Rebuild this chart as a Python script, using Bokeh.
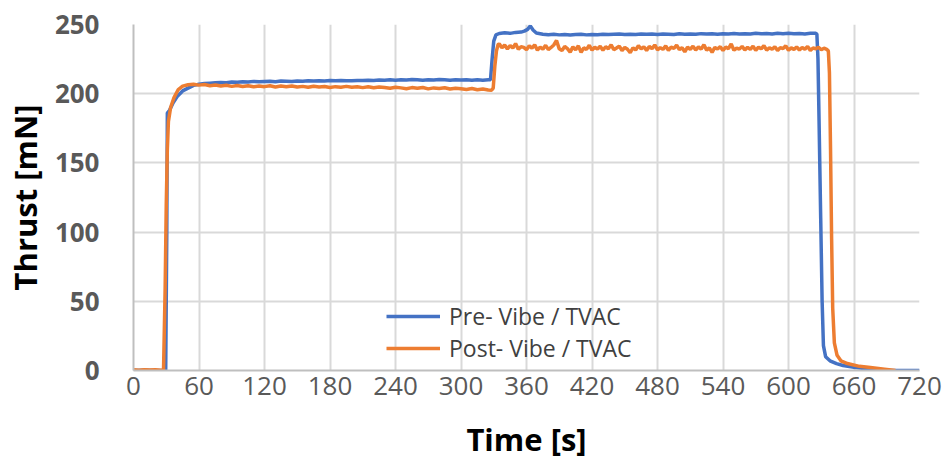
from bokeh.plotting import figure
from bokeh.models import Range1d, FixedTicker
from bokeh.embed import file_html
from bokeh.resources import INLINE

# ---------------- data ----------------
x_ticks = [0, 60, 120, 180, 240, 300, 360, 420, 480, 540, 600, 660, 720]
y_ticks = [0, 50, 100, 150, 200, 250]

pre_label = "Pre- Vibe / TVAC"
post_label = "Post- Vibe / TVAC"

pre_t = [0, 10, 20, 29.5, 30.5, 31, 33, 36, 40, 45, 50,
         55, 60, 65, 70, 75, 80, 85, 90, 95, 100, 105, 110, 115, 120, 125, 130,
         135, 140, 145, 150, 155, 160, 165, 170, 175, 180, 185, 190, 195, 200,
         205, 210, 215, 220, 225, 230, 235, 240, 245, 250, 255, 260, 265, 270,
         275, 280, 285, 290, 295, 300, 305, 310, 315, 320, 325,
         327, 328.5, 330, 332, 335, 340, 345, 350, 355, 358, 361, 363.5, 366, 369,
         375, 380, 385, 390, 395, 400, 405, 410, 415, 420, 425, 430, 435, 440,
         445, 450, 455, 460, 465, 470, 475, 480, 485, 490, 495, 500, 505, 510,
         515, 520, 525, 530, 535, 540, 545, 550, 555, 560, 565, 570, 575, 580,
         585, 590, 595, 600, 605, 610, 615, 620, 625,
         626, 627, 628, 629.5, 630.8, 632, 634, 638, 644, 650, 660, 669, 681, 690, 720]
pre_thrust = [0.0, 0.2, 0.0, 0.0, 100, 186, 188, 193, 198, 202, 204,
              206.0, 206.8, 207.3, 207.6, 207.9, 208.1, 208.0, 208.4, 208.2, 208.6,
              208.5, 208.9, 208.6, 208.8, 209.0, 208.7, 209.1, 209.0, 208.8, 209.2,
              209.0, 209.3, 209.1, 209.4, 209.2, 209.5, 209.3, 209.6, 209.4, 209.3,
              209.6, 209.5, 209.8, 209.6, 209.9, 209.7, 210.0, 209.8, 210.1, 209.9,
              210.2, 210.0, 209.8, 210.1, 209.9, 210.2, 210.0, 209.8, 210.1, 209.9,
              210.0, 209.7, 210.0, 209.8, 210.0,
              210.0, 225, 238, 242.5, 243.5, 244.0, 243.6, 244.3, 244.5, 245.2, 246.5,
              249.0, 246.0, 243.8,
              243.0, 242.6, 242.9, 242.5, 242.8, 242.4, 242.7, 242.9, 242.5, 242.8,
              242.6, 243.0, 242.7, 242.9, 243.1, 242.7, 243.0, 242.8, 243.2, 242.9,
              243.1, 242.8, 243.2, 243.0, 242.8, 243.3, 243.0, 243.2, 242.9, 243.4,
              243.1, 243.3, 243.0, 243.4, 243.2, 243.5, 243.1, 243.4, 243.2, 243.6,
              243.3, 243.5, 243.2, 243.6, 243.4, 243.7, 243.3, 243.5, 243.2, 243.6,
              243.6,
              243.0, 225, 180, 110, 50, 18, 10, 7, 5, 3.6, 2.3, 1.4, 0.2, 0.0, 0.0]

post_t = [0, 5, 10, 15, 20, 25, 27.5, 29, 30, 31, 32, 34, 37, 41,
          45, 50, 55, 60, 65, 70, 75, 80, 85, 90, 95, 100, 105, 110, 115, 120,
          125, 130, 135, 140, 145, 150, 155, 160, 165, 170, 175, 180, 185, 190,
          195, 200, 205, 210, 215, 220, 225, 230, 235, 240, 245, 250, 255, 260,
          265, 270, 275, 280, 285, 290, 295, 300, 305, 310, 315, 320, 325,
          328, 329.5, 331, 332.5, 334,
          335, 337.5, 340, 342.5, 345, 347.5, 350, 352.5, 355, 357.5,
          360, 362.5, 365, 367.5, 370, 372.5, 375, 377.5, 380, 382.5,
          385, 387.5, 390, 392.5, 395, 397.5, 400, 402.5, 405, 407.5,
          410, 412.5, 415, 417.5, 420, 422.5, 425, 427.5, 430, 432.5,
          435, 437.5, 440, 442.5, 445, 447.5, 450, 452.5, 455, 457.5,
          460, 462.5, 465, 467.5, 470, 472.5, 475, 477.5, 480, 482.5,
          485, 487.5, 490, 492.5, 495, 497.5, 500, 502.5, 505, 507.5,
          510, 512.5, 515, 517.5, 520, 522.5, 525, 527.5, 530, 532.5,
          535, 537.5, 540, 542.5, 545, 547.5, 550, 552.5, 555, 557.5,
          560, 562.5, 565, 567.5, 570, 572.5, 575, 577.5, 580, 582.5,
          585, 587.5, 590, 592.5, 595, 597.5, 600, 602.5, 605, 607.5,
          610, 612.5, 615, 617.5, 620, 622.5, 625, 627.5, 630, 632.5,
          635,
          636.5, 637.5, 638.5, 639.5, 640.5, 642, 644.5, 648, 654, 665, 675, 688, 698]
post_thrust = [0.5, 0.2, 0.6, 0.3, 0.5, 0.2, 0.4, 60, 120, 160, 180, 190, 197, 203,
               205.5, 206.5, 206.8, 206.2, 206.6, 205.8, 206.3, 205.6, 206.1, 205.3,
               205.9, 205.2, 205.8, 205.0, 205.6, 205.1, 205.7, 204.9, 205.5, 205.0,
               205.6, 204.8, 205.3, 204.6, 205.4, 204.9, 205.2, 204.5, 205.1, 204.7,
               205.3, 204.6, 205.0, 204.4, 205.0, 204.3, 204.9, 204.5, 204.0, 204.7,
               204.2, 203.6, 204.4, 203.9, 204.5, 203.5, 204.2, 203.8, 204.3, 203.4,
               204.0, 203.6, 203.1, 203.8, 202.9, 203.4, 202.7,
               202.5, 204.0, 220.0, 231.0, 235.5,
               236.0, 233.2, 235.1, 232.4, 234.8, 233.0, 236.2, 232.1, 234.0, 233.5,
               231.8, 234.6, 232.9, 235.3, 231.5, 233.7, 232.2, 234.9, 231.9, 233.4,
               235.2, 238.5, 232.4, 231.2, 234.1, 232.6, 230.0, 233.8, 231.7, 234.6,
               229.8, 233.1, 232.0, 235.0, 231.5, 233.6, 232.3, 234.2, 231.4, 233.9,
               232.5, 235.3, 231.8, 233.0, 234.4, 231.2, 233.5, 232.1, 229.6, 233.2,
               231.6, 234.7, 232.4, 233.9, 231.3, 234.1, 232.6, 235.2, 231.7, 233.3,
               232.0, 234.5, 231.4, 233.6, 232.8, 235.0, 231.9, 233.2, 230.3, 233.7,
               232.1, 234.3, 231.6, 233.8, 232.2, 235.4, 231.5, 233.1, 229.9, 233.4,
               232.3, 234.0, 231.2, 233.7, 232.5, 236.0, 231.4, 233.0, 232.2, 234.2,
               231.6, 233.5, 232.0, 234.4, 231.3, 233.6, 232.4, 234.8, 231.5, 233.2,
               232.1, 234.0, 231.2, 233.3, 232.6, 234.6, 231.4, 233.1, 232.0, 233.8,
               231.5, 233.4, 232.2, 234.1, 231.3, 233.0, 232.5, 233.6, 231.8, 232.9,
               232.0,
               231.0, 215, 160, 95, 45, 20, 11, 7, 5, 3, 2.2, 1.0, 0.0]

# ---------------- figure ----------------
p = figure(frame_width=786, frame_height=346,
           min_border_left=133, min_border_right=29,
           min_border_top=24, min_border_bottom=96,
           x_range=Range1d(0, 720), y_range=Range1d(0, 250),
           output_backend="svg", toolbar_location=None,
           background_fill_color="white", border_fill_color="white")
p.outline_line_color = None

p.line(pre_t, pre_thrust, line_color="#4472C4", line_width=3.5, legend_label=pre_label)
p.line(post_t, post_thrust, line_color="#ED7D31", line_width=3.5, legend_label=post_label)

for ax in (p.xaxis[0], p.yaxis[0]):
    ax.axis_line_color = "#bfbfbf"
    ax.axis_line_width = 2
    ax.major_tick_line_color = None
    ax.minor_tick_line_color = None
    ax.major_label_text_color = "#595959"
    ax.major_label_text_font = "Open Sans"
    ax.axis_label_text_color = "black"
    ax.axis_label_text_font = "Open Sans"
    ax.axis_label_text_font_style = "bold"
    ax.axis_label_text_font_size = "31px"

p.xaxis.ticker = FixedTicker(ticks=x_ticks)
p.yaxis.ticker = FixedTicker(ticks=y_ticks)
p.xaxis.major_label_text_font_size = "26px"
p.yaxis.major_label_text_font_size = "26px"
p.yaxis.major_label_text_font_style = "bold"
p.xaxis.major_label_standoff = 0
p.yaxis.major_label_standoff = 28
p.xaxis.axis_label = "Time [s]"
p.yaxis.axis_label = "Thrust [mN]"
p.xaxis.axis_label_standoff = 20
p.yaxis.axis_label_standoff = 6

p.xgrid.ticker = FixedTicker(ticks=x_ticks)
p.ygrid.ticker = FixedTicker(ticks=y_ticks)
p.grid.grid_line_color = "#d9d9d9"
p.grid.grid_line_width = 2

lg = p.legend[0]
lg.location = (253, 6)
lg.border_line_color = None
lg.background_fill_alpha = 0
lg.padding = 0
lg.margin = 0
lg.spacing = -3
lg.glyph_width = 54
lg.glyph_height = 26
lg.label_height = 26
lg.label_standoff = 9
lg.label_text_font = "Open Sans"
lg.label_text_font_size = "23px"
lg.label_text_color = "#404040"

open("out.html", "w").write(file_html(p, INLINE))
